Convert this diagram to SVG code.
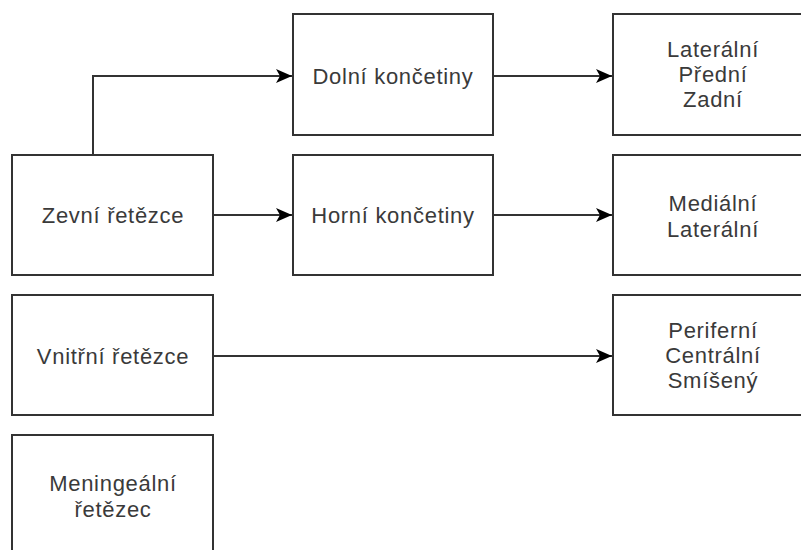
<svg xmlns="http://www.w3.org/2000/svg" width="801" height="550" viewBox="0 0 801 550">
<defs>
<style>
.box{fill:#fff;stroke:#333;stroke-width:2}
.lbl{font-family:"Liberation Sans",Arial,Helvetica,sans-serif;font-size:22px;fill:#3a3a3a;text-anchor:middle;letter-spacing:0.7px}
.edge{fill:none;stroke:#333;stroke-width:2}
</style>
<marker id="arr" markerWidth="17" markerHeight="14" refX="16" refY="7" orient="auto" markerUnits="userSpaceOnUse" viewBox="0 0 17 14">
<path d="M0,0 L16,7 L0,14 L4,7 Z" fill="#000"/>
</marker>
</defs>
<rect width="801" height="550" fill="#fff"/>
<g id="connectors">
<path class="edge" d="M93,155 V76 H292" marker-end="url(#arr)"/>
<path class="edge" d="M213,215 H292" marker-end="url(#arr)"/>
<path class="edge" d="M493,76 H612" marker-end="url(#arr)"/>
<path class="edge" d="M493,215 H612" marker-end="url(#arr)"/>
<path class="edge" d="M213,356 H612" marker-end="url(#arr)"/>
</g>
<g id="zevni">
<rect class="box" x="12" y="155" width="201" height="120"/>
<text class="lbl" x="113" y="223">Zevní řetězce</text>
</g>
<g id="vnitrni">
<rect class="box" x="12" y="295" width="201" height="120"/>
<text class="lbl" x="113" y="364">Vnitřní řetězce</text>
</g>
<g id="meningealni">
<rect class="box" x="12" y="435" width="201" height="120"/>
<text class="lbl" x="113" y="491">Meningeální</text>
<text class="lbl" x="113" y="517">řetězec</text>
</g>
<g id="dolni">
<rect class="box" x="293" y="14" width="200" height="121"/>
<text class="lbl" x="393" y="84">Dolní končetiny</text>
</g>
<g id="horni">
<rect class="box" x="293" y="155" width="200" height="120"/>
<text class="lbl" x="393" y="223">Horní končetiny</text>
</g>
<g id="dolni-typy">
<rect class="box" x="613" y="14" width="200" height="121"/>
<text class="lbl" x="713" y="57">Laterální</text>
<text class="lbl" x="713" y="82">Přední</text>
<text class="lbl" x="713" y="107">Zadní</text>
</g>
<g id="horni-typy">
<rect class="box" x="613" y="155" width="200" height="120"/>
<text class="lbl" x="713" y="211">Mediální</text>
<text class="lbl" x="713" y="237">Laterální</text>
</g>
<g id="vnitrni-typy">
<rect class="box" x="613" y="295" width="200" height="120"/>
<text class="lbl" x="713" y="338">Periferní</text>
<text class="lbl" x="713" y="363">Centrální</text>
<text class="lbl" x="713" y="388">Smíšený</text>
</g>
</svg>
